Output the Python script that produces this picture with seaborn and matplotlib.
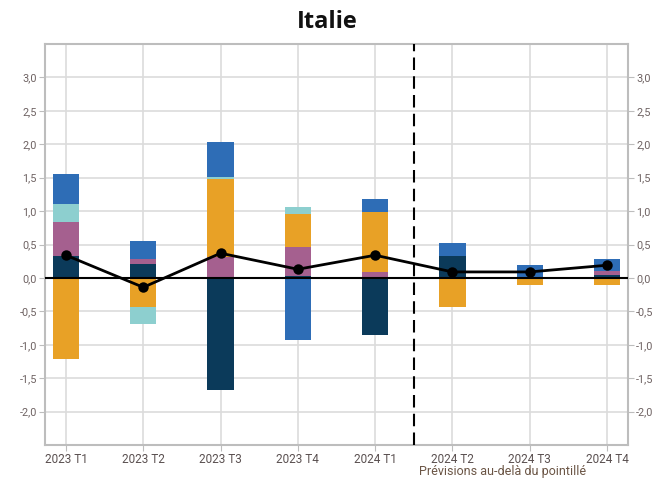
import numpy as np
import pandas as pd
import matplotlib
matplotlib.use("Agg")
import matplotlib.pyplot as plt
from matplotlib.ticker import FuncFormatter
import seaborn as sns

# data
quarters = ["2023 T1", "2023 T2", "2023 T3", "2023 T4",
            "2024 T1", "2024 T2", "2024 T3", "2024 T4"]
navy = [0.33, 0.21, -1.67, 0.03, -0.86, 0.33, 0.00, 0.04]
purple = [0.51, 0.07, 0.32, 0.43, 0.09, 0.00, 0.00, 0.06]
orange = [-1.22, -0.44, 1.16, 0.49, 0.90, -0.44, -0.11, -0.11]
teal = [0.27, -0.25, 0.03, 0.11, 0.00, 0.00, 0.00, 0.00]
blue = [0.44, 0.27, 0.52, -0.93, 0.19, 0.19, 0.19, 0.18]
total = [0.34, -0.14, 0.37, 0.13, 0.34, 0.09, 0.09, 0.19]

series = [
    (navy, "#0b3a5a"),
    (purple, "#a5608f"),
    (orange, "#e8a126"),
    (teal, "#8dcfcf"),
    (blue, "#2e6db6"),
]

sns.set_style("whitegrid")
plt.rcParams["font.family"] = ["Roboto", "DejaVu Sans"]

fig = plt.figure(figsize=(6.54, 4.79), dpi=100)
ax = fig.add_axes([0.069, 0.071, 0.891, 0.837])

pos_base = np.zeros(len(quarters))
neg_base = np.zeros(len(quarters))
for vals, col in series:
    v = np.array(vals)
    bottom = np.where(v >= 0, pos_base, neg_base)
    df = pd.DataFrame({"q": quarters, "v": v})
    sns.barplot(data=df, x="q", y="v", order=quarters, color=col,
                saturation=1, errorbar=None, width=0.34,
                bottom=bottom, linewidth=0, ax=ax)
    pos_base = pos_base + np.where(v > 0, v, 0)
    neg_base = neg_base + np.where(v < 0, v, 0)

ax.axhline(0, color="black", lw=1.5, zorder=5)
ax.axvline(4.5, color="black", lw=1.5, ls=(0, (6, 3)), zorder=5)

tot = pd.DataFrame({"q": quarters, "t": total})
sns.pointplot(data=tot, x="q", y="t", order=quarters, color="black",
              errorbar=None, markers="o", markersize=6, linewidth=2, ax=ax)
for c in ax.collections + ax.lines[-1:]:
    c.set_zorder(6)

ax.set_xlim(-0.27, 7.27)
ax.set_ylim(-2.5, 3.5)
ax.set_yticks(np.arange(-2.0, 3.01, 0.5))
ax.yaxis.set_major_formatter(FuncFormatter(lambda y, _: f"{y:.1f}".replace(".", ",")))
ax.set_xlabel("")
ax.set_ylabel("")

ax.grid(True, axis="both", color="#dcdcdc", lw=1.2)
ax.set_axisbelow(True)
for s in ax.spines.values():
    s.set_color("#bdbdbd")
    s.set_linewidth(1.5)

ax.tick_params(axis="y", left=True, right=True, labelleft=True, labelright=True,
               length=4, color="#bdbdbd", labelsize=7.8, labelcolor="#6e6262", pad=2)
ax.tick_params(axis="x", bottom=True, length=4, color="#bdbdbd",
               labelsize=8.5, labelcolor="#5a5050", pad=2)

fig.text(0.5, 0.955, "Italie", ha="center", va="center",
         fontsize=17, fontweight="bold", color="#111111", family="Open Sans")
fig.text(0.768, 0.016, "Prévisions au-delà du pointillé", ha="center", va="center",
         fontsize=9, color="#6b5545")

fig.savefig("out.png", dpi=100)
